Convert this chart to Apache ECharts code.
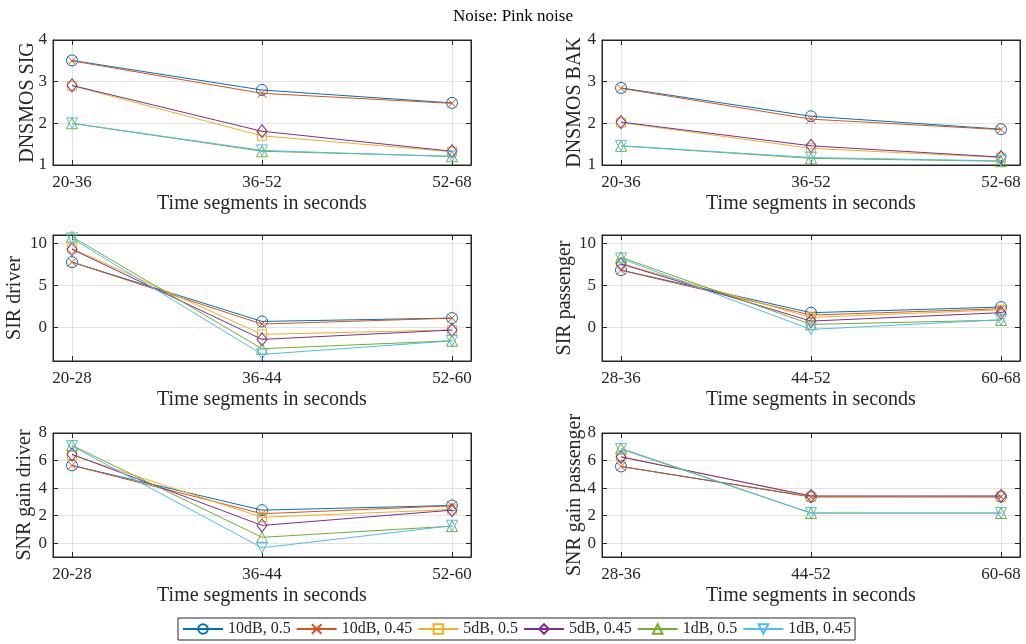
<!DOCTYPE html>
<html>
<head>
<meta charset="utf-8">
<script src="https://cdn.jsdelivr.net/npm/echarts@6/dist/echarts.min.js"></script>
<style>
  html, body { margin: 0; padding: 0; background: #fff; }
  #chart { width: 1026px; height: 644px; }
</style>
</head>
<body>
<div id="chart"></div>
<script>
// Category labels for the three time segments
const segmentsDnsmos = ['20-36', '36-52', '52-68'];
const segmentsDriver = ['20-28', '36-44', '52-60'];
const segmentsPassenger = ['28-36', '44-52', '60-68'];

// Configurations (SNR, factor)
const seriesNames = ['10dB, 0.5', '10dB, 0.45', '5dB, 0.5', '5dB, 0.45', '1dB, 0.5', '1dB, 0.45'];

// One row per configuration, one value per segment
const sigValues = [
  [3.51, 2.80, 2.49],
  [3.50, 2.72, 2.48],
  [2.90, 1.70, 1.32],
  [2.91, 1.81, 1.33],
  [2.00, 1.33, 1.21],
  [2.00, 1.35, 1.20]
];
const bakValues = [
  [2.85, 2.17, 1.86],
  [2.84, 2.10, 1.85],
  [2.02, 1.40, 1.18],
  [2.03, 1.46, 1.19],
  [1.46, 1.16, 1.09],
  [1.46, 1.18, 1.10]
];
const sirDriverValues = [
  [7.77, 0.71, 1.11],
  [7.77, 0.40, 1.10],
  [9.40, -0.83, -0.30],
  [9.30, -1.43, -0.32],
  [10.80, -2.54, -1.59],
  [10.60, -3.21, -1.60]
];
const sirPassengerValues = [
  [6.82, 1.75, 2.42],
  [6.80, 1.47, 2.22],
  [7.60, 1.19, 2.10],
  [7.55, 0.75, 1.75],
  [8.35, 0.36, 0.87],
  [8.20, -0.24, 0.90]
];
const snrDriverValues = [
  [5.65, 2.40, 2.74],
  [5.65, 2.14, 2.72],
  [6.40, 1.88, 2.45],
  [6.45, 1.29, 2.40],
  [7.10, 0.43, 1.24],
  [7.05, -0.33, 1.27]
];
const snrPassengerValues = [
  [5.57, 3.38, 3.38],
  [5.57, 3.36, 3.36],
  [6.30, 3.38, 3.40],
  [6.26, 3.43, 3.43],
  [6.88, 2.19, 2.19],
  [6.83, 2.19, 2.19]
];

// Y tick labels per row
const dnsmosTicks = [1, 2, 3, 4];
const sirTicks = [0, 5, 10];
const snrTicks = [0, 2, 4, 6, 8];
const segmentTicks = [1, 2, 3];

const colors = ['#0072BD', '#D95319', '#EDB120', '#7E2F8E', '#77AC30', '#4DBEEE'];
const symbols = [
  'circle',
  'path://M0,0L10,10M0,10L10,0',
  'rect',
  'diamond',
  'path://M5,0L10,8.66L0,8.66Z',
  'path://M0,0L10,0L5,8.66Z'
];
const symbolSizes = [11, 9, 9, [10, 13], 11, 11];

const FONT = '"Liberation Serif", "Times New Roman", serif';
const INK = '#262626';

const panels = [
  { left: 53,  top: 40,  height: 125, cats: segmentsDnsmos,    values: sigValues,          ymin: 1,  ymax: 4,  ticks: dnsmosTicks, name: 'DNSMOS SIG',         gap: 15 },
  { left: 602, top: 40,  height: 125, cats: segmentsDnsmos,    values: bakValues,          ymin: 1,  ymax: 4,  ticks: dnsmosTicks, name: 'DNSMOS BAK',         gap: 17 },
  { left: 53,  top: 235, height: 126, cats: segmentsDriver,    values: sirDriverValues,    ymin: -4, ymax: 11, ticks: sirTicks,    name: 'SIR driver',         gap: 28 },
  { left: 602, top: 235, height: 126, cats: segmentsPassenger, values: sirPassengerValues, ymin: -4, ymax: 11, ticks: sirTicks,    name: 'SIR passenger',      gap: 27 },
  { left: 53,  top: 433, height: 124, cats: segmentsDriver,    values: snrDriverValues,    ymin: -1, ymax: 8,  ticks: snrTicks,    name: 'SNR gain driver',    gap: 18 },
  { left: 602, top: 433, height: 124, cats: segmentsPassenger, values: snrPassengerValues, ymin: -1, ymax: 8,  ticks: snrTicks,    name: 'SNR gain passenger', gap: 17 }
];

const grid = [], xAxis = [], yAxis = [], series = [];

panels.forEach((p, i) => {
  grid.push({
    left: p.left, top: p.top, width: 418, height: p.height,
    show: true, borderColor: INK, borderWidth: 1, backgroundColor: '#fff'
  });
  // bottom axis with segment labels
  xAxis.push({
    type: 'value', gridIndex: i, min: 0.9, max: 3.1, position: 'bottom',
    name: 'Time segments in seconds', nameLocation: 'middle', nameGap: 29,
    nameMoveOverlap: false,
    nameTextStyle: { fontFamily: FONT, fontSize: 20, color: INK },
    axisLine: { show: true, onZero: false, lineStyle: { color: INK, width: 1 } },
    axisTick: { show: true, inside: true, length: 5, customValues: segmentTicks, lineStyle: { color: INK } },
    axisLabel: {
      customValues: segmentTicks, margin: 9,
      fontFamily: FONT, fontSize: 17, color: INK,
      formatter: (v) => p.cats[Math.round(v) - 1]
    },
    splitLine: { show: true, lineStyle: { color: '#e2e2e2', width: 1 } }
  });
  // top axis: ticks only
  xAxis.push({
    type: 'value', gridIndex: i, min: 0.9, max: 3.1, position: 'top',
    axisLine: { show: true, onZero: false, lineStyle: { color: INK, width: 1 } },
    axisTick: { show: true, inside: true, length: 5, customValues: segmentTicks, lineStyle: { color: INK } },
    axisLabel: { show: false, customValues: segmentTicks },
    splitLine: { show: false }
  });
  yAxis.push({
    type: 'value', gridIndex: i, min: p.ymin, max: p.ymax, position: 'left',
    name: p.name, nameLocation: 'middle', nameGap: p.gap, nameRotate: 90,
    nameMoveOverlap: false,
    nameTextStyle: { fontFamily: FONT, fontSize: 20, color: INK },
    axisLine: { show: true, onZero: false, lineStyle: { color: INK, width: 1 } },
    axisTick: { show: true, inside: true, length: 5, customValues: p.ticks, lineStyle: { color: INK } },
    axisLabel: { customValues: p.ticks, margin: 6, fontFamily: FONT, fontSize: 17, color: INK },
    splitLine: { show: true, lineStyle: { color: '#e2e2e2', width: 1 } }
  });
  // right axis: ticks only
  yAxis.push({
    type: 'value', gridIndex: i, min: p.ymin, max: p.ymax, position: 'right',
    axisLine: { show: true, onZero: false, lineStyle: { color: INK, width: 1 } },
    axisTick: { show: true, inside: true, length: 5, customValues: p.ticks, lineStyle: { color: INK } },
    axisLabel: { show: false, customValues: p.ticks },
    splitLine: { show: false }
  });

  p.values.forEach((vals, s) => {
    series.push({
      type: 'line',
      name: seriesNames[s],
      xAxisIndex: i * 2,
      yAxisIndex: i * 2,
      data: vals.map((v, k) => [k + 1, v]),
      color: colors[s],
      symbol: symbols[s],
      symbolSize: symbolSizes[s],
      showAllSymbol: true,
      lineStyle: { color: colors[s], width: 1 },
      itemStyle: { color: 'rgba(255,255,255,0)', borderColor: colors[s], borderWidth: 1 },
      emphasis: { disabled: true },
      z: 3 + s
    });
  });
});

const chart = echarts.init(document.getElementById('chart'), null, { renderer: 'canvas' });
chart.setOption({
  animation: false,
  backgroundColor: '#fff',
  title: {
    text: 'Noise: Pink noise', left: 'center', top: 3,
    textStyle: { fontFamily: FONT, fontSize: 17, fontWeight: 'normal', color: '#000' }
  },
  legend: {
    data: seriesNames,
    left: 178, top: 618,
    orient: 'horizontal',
    itemWidth: 40, itemHeight: 12, itemGap: 5,
    padding: [3, 4, 3, 4],
    borderColor: INK, borderWidth: 1, backgroundColor: '#fff',
    textStyle: { fontFamily: FONT, fontSize: 16, color: INK },
    selectedMode: false
  },
  grid, xAxis, yAxis, series
});
</script>
</body>
</html>
